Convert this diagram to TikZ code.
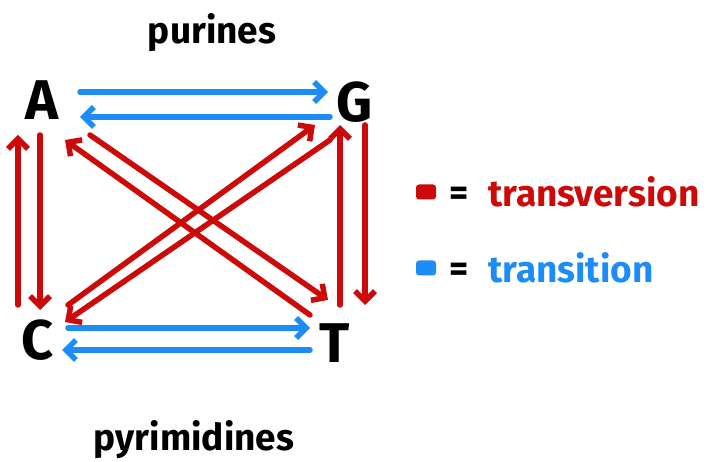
\documentclass[tikz,border=0pt]{standalone}
\usepackage{fontspec}
\setmainfont{Fira Sans}
\usepackage{xcolor}
\definecolor{rouge}{HTML}{CC0A0A}
\definecolor{bleu}{HTML}{1E8CF5}
\usepackage{tikz}
\usetikzlibrary{arrows.meta}

\begin{document}
\begin{tikzpicture}[x=1pt,y=-1pt,
  base/.style={font=\fontsize{56}{56}\selectfont\bfseries,inner sep=0pt},
  titre/.style={font=\fontsize{37}{37}\selectfont\bfseries,inner sep=0pt},
  leg/.style={font=\fontsize{37}{37}\selectfont\bfseries,inner sep=0pt,anchor=west},
  tv/.style={-{Straight Barb[length=10pt,width=20pt]},rouge,line width=5.5pt,line cap=round},
  ts/.style={-{Straight Barb[length=10pt,width=20pt]},bleu,line width=5.5pt,line cap=round},
  marque/.style={minimum width=20pt,minimum height=15pt,inner sep=0pt,rounded corners=3pt}
]
\useasboundingbox (0,0) rectangle (712,462);
% titres
\node[titre] (pur) at (212,33) {purines};
\node[titre] (pyr) at (194,440) {pyrimidines};
% bases
\node[base] (a) at (42,100) {A};
\node[base] (g) at (355,102) {G};
\node[base] (c) at (38,340) {C};
\node[base] (t) at (335,343) {T};
% transitions
\draw[ts] ([shift={(38,-8)}]a.center) -- ([shift={(-27,-10)}]g.center);
\draw[ts] ([shift={(-25,15)}]g.center) -- ([shift={(38,17)}]a.center);
\draw[ts] ([shift={(30,-12)}]c.center) -- ([shift={(-25,-15)}]t.center);
\draw[ts] ([shift={(-25,7)}]t.center) -- ([shift={(24,10)}]c.center);
% transversions
\draw[tv] ([shift={(-20,-35)}]c.center) -- ([shift={(-24,35)}]a.center);
\draw[tv] ([shift={(-2,35)}]a.center) -- ([shift={(2,-30)}]c.center);
\draw[tv] ([shift={(5,-38)}]t.center) -- ([shift={(-15,23)}]g.center);
\draw[tv] ([shift={(10,23)}]g.center) -- ([shift={(30,-38)}]t.center);
\draw[tv] ([shift={(-25,-28)}]t.center) -- ([shift={(23,40)}]a.center);
\draw[tv] ([shift={(48,35)}]a.center) -- ([shift={(-7,-43)}]t.center);
\draw[tv] ([shift={(30,-35)}]c.center) -- ([shift={(-40,23)}]g.center);
\draw[tv] ([shift={(-25,38)}]g.center) -- ([shift={(27,-18)}]c.center);
% legende
\node[marque,fill=rouge] (m1) at (426,192) {};
\node[leg] (e1) at (449,196) {=};
\node[leg,rouge] (l1) at (488,192) {transversion};
\node[marque,fill=bleu] (m2) at (426,268) {};
\node[leg] (e2) at (449,272) {=};
\node[leg,bleu] (l2) at (488,268) {transition};
\end{tikzpicture}
\end{document}
